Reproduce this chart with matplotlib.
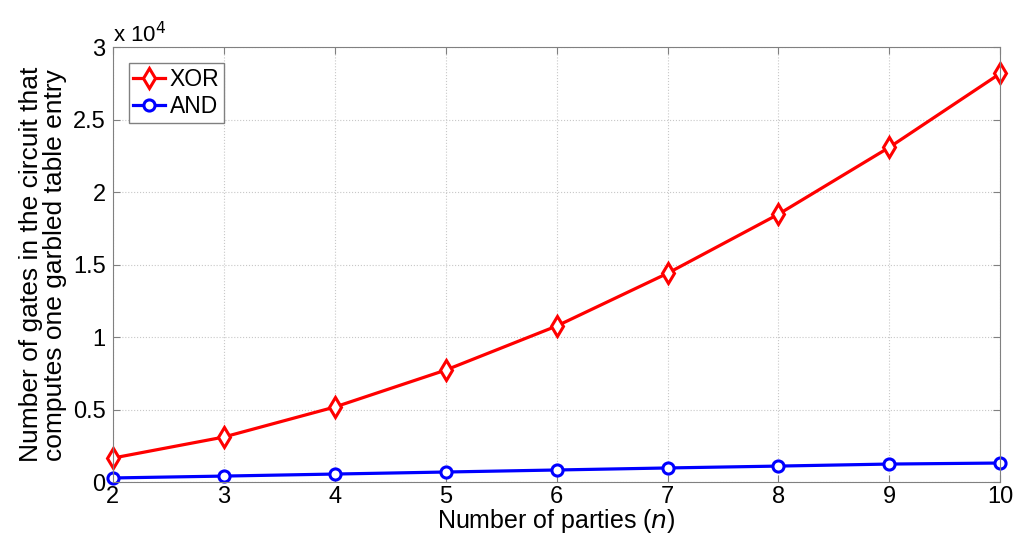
import matplotlib
matplotlib.use("Agg")
import matplotlib.pyplot as plt

# Datos
parties = [2, 3, 4, 5, 6, 7, 8, 9, 10]
xor_gates = [1650, 3100, 5170, 7720, 10760, 14400, 18480, 23100, 28200]
and_gates = [280, 410, 550, 690, 830, 970, 1100, 1240, 1310]

plt.rcParams["font.family"] = ["Liberation Sans", "DejaVu Sans"]

fig = plt.figure(figsize=(10.24, 5.49), dpi=100)
ax = fig.add_axes([0.110, 0.122, 0.867, 0.792])

ax.plot(parties, [v / 1e4 for v in xor_gates], color="red", linewidth=2.3,
        marker="d", markersize=10, markerfacecolor="white",
        markeredgewidth=2.2, label="XOR", clip_on=False)
ax.plot(parties, [v / 1e4 for v in and_gates], color="blue", linewidth=2.3,
        marker="o", markersize=8, markerfacecolor="white",
        markeredgewidth=2.2, label="AND", clip_on=False)

ax.set_xlim(2, 10)
ax.set_ylim(0, 3)
ax.set_xticks(parties)
ax.set_yticks([0, 0.5, 1, 1.5, 2, 2.5, 3])
ax.set_yticklabels(["0", "0.5", "1", "1.5", "2", "2.5", "3"])
ax.tick_params(direction="in", labelsize=17, color="#808080", length=5,
               top=True, right=True)
ax.tick_params(axis="x", pad=3)
ax.tick_params(axis="y", pad=5)
for s in ax.spines.values():
    s.set_color("#808080")
ax.grid(True, linestyle=":", color="#c8c8c8", linewidth=0.8)

ax.text(0.0, 1.0, r"x 10$^{4}$", transform=ax.transAxes, fontsize=16,
        ha="left", va="bottom")

ax.set_xlabel("Number of parties ($n$)", fontsize=18, labelpad=-1)
ax.set_ylabel("Number of gates in the circuit that\ncomputes one garbled table entry",
              fontsize=19, labelpad=4, linespacing=1.0)

leg = ax.legend(loc="upper left", fontsize=16.5, handlelength=1.4,
                fancybox=False, framealpha=1, borderpad=0.2,
                handletextpad=0.2, labelspacing=0.2, borderaxespad=0.7)
leg.get_frame().set_edgecolor("#808080")

plt.savefig("out.png", dpi=100)
